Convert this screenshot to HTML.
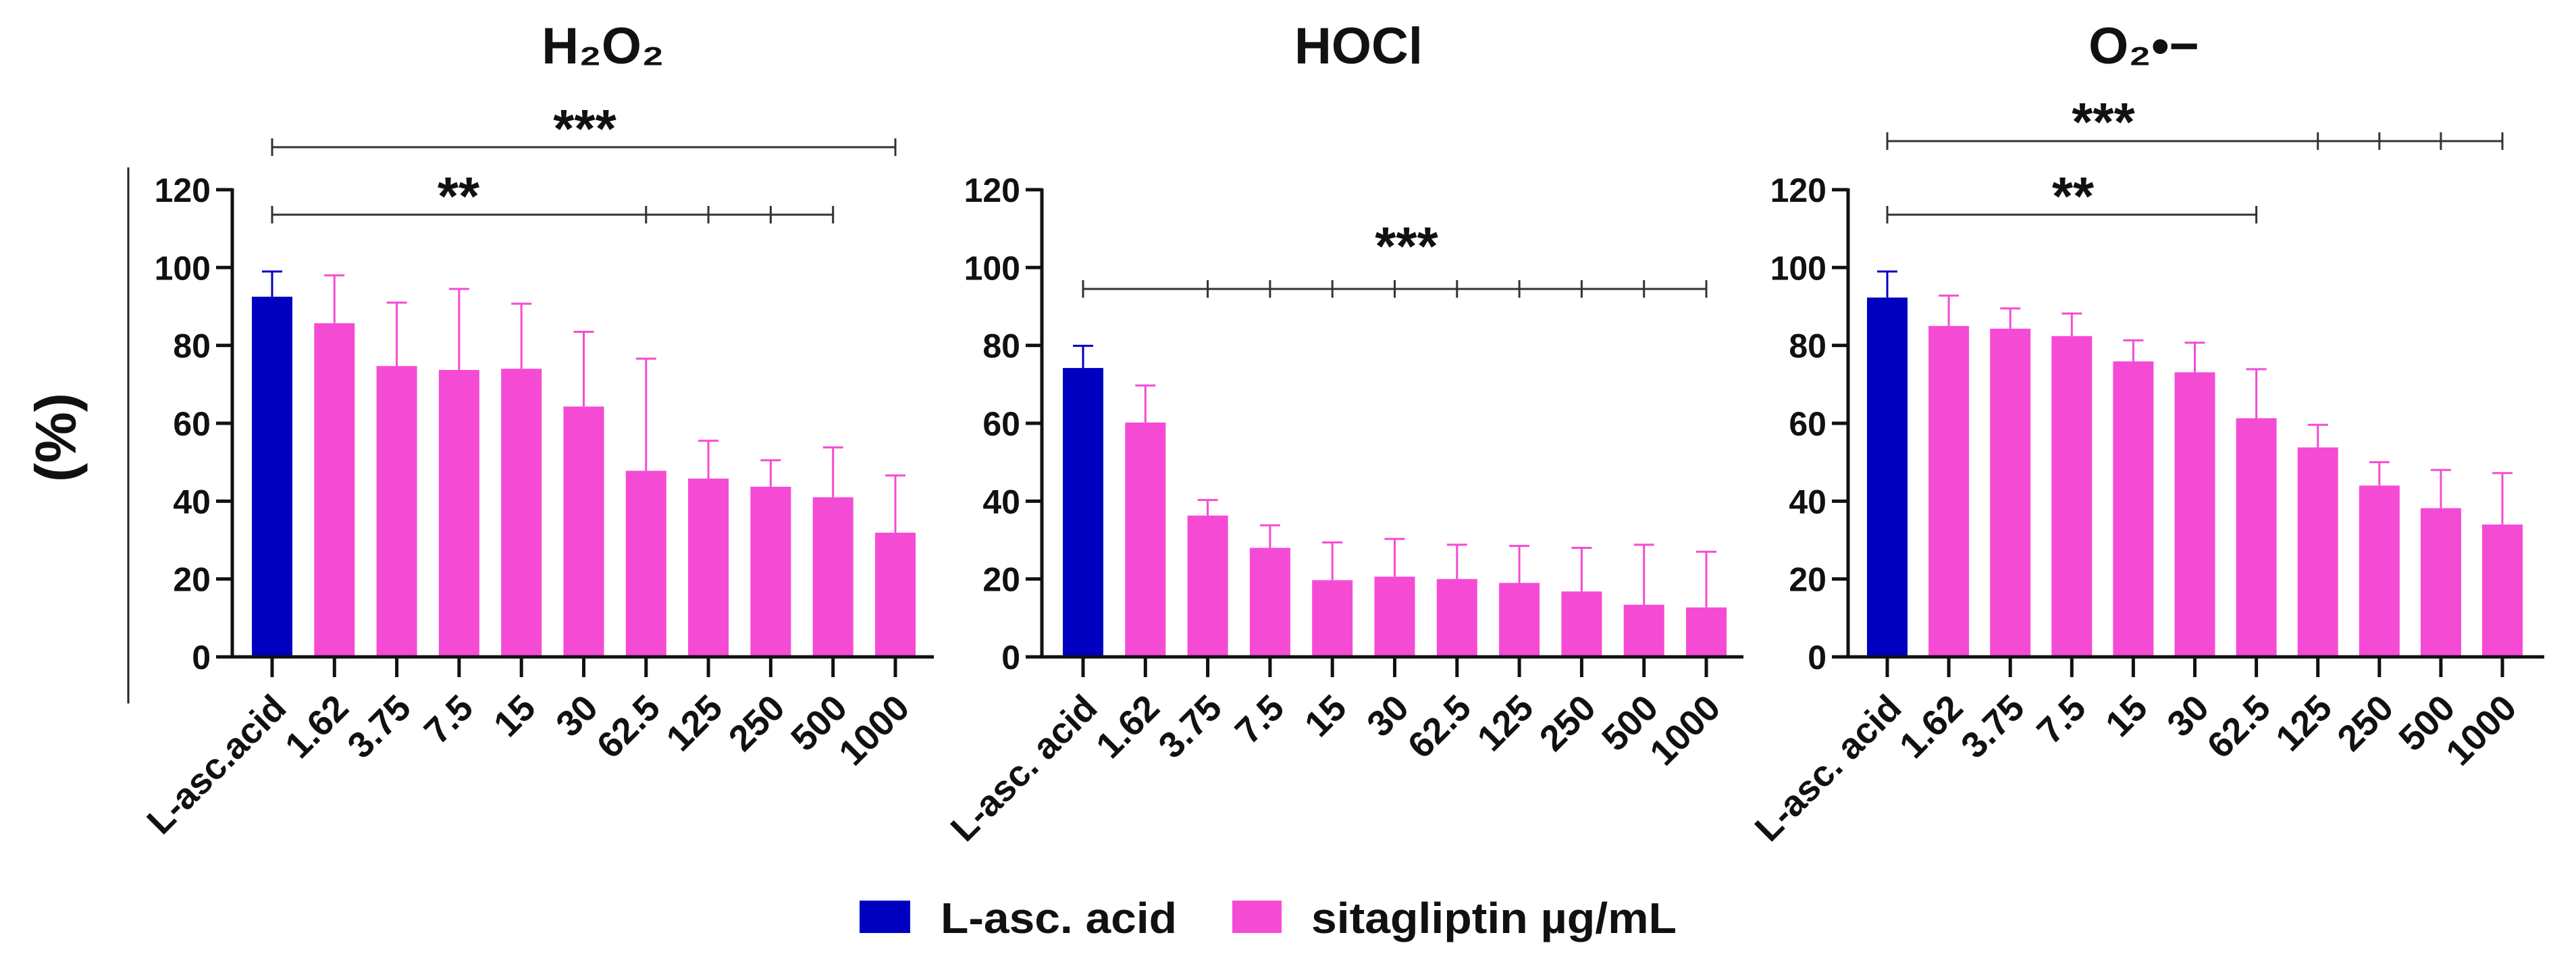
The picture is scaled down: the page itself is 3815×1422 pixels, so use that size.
<!DOCTYPE html>
<html><head><meta charset="utf-8"><style>
html,body{margin:0;padding:0;background:#fff;}
svg{display:block;font-family:"Liberation Sans","DejaVu Sans",sans-serif;font-weight:bold;}
</style></head><body>
<svg id="chart" width="3815" height="1422" viewBox="0 0 3815 1422" xmlns="http://www.w3.org/2000/svg">
<line x1="190" y1="248" x2="190" y2="1042" stroke="#222" stroke-width="3"/>
<text transform="translate(112,648) rotate(-90)" text-anchor="middle" font-size="85" fill="#111">(%)</text>
<g id="panels"></g>
<g>
<rect x="1273" y="1334" width="75" height="48" fill="#0000C0"/>
<text x="1393" y="1382" font-size="64" textLength="350" lengthAdjust="spacingAndGlyphs" fill="#111">L-asc. acid</text>
<rect x="1825" y="1334" width="73" height="48" fill="#F54BD4"/>
<text x="1942" y="1382" font-size="64" textLength="541" lengthAdjust="spacingAndGlyphs" fill="#111">sitagliptin µg/mL</text>
</g>
</svg>
<script>
const categories1 = ["L-asc.acid","1.62","3.75","7.5","15","30","62.5","125","250","500","1000"];
const categories2 = ["L-asc. acid","1.62","3.75","7.5","15","30","62.5","125","250","500","1000"];
const yTicks = [0,20,40,60,80,100,120];
const h2o2Values = [92.5,85.7,74.7,73.7,74,64.3,47.8,45.8,43.7,41,31.9];
const h2o2Errors = [99,98,91,94.5,90.7,83.5,76.6,55.5,50.5,53.8,46.6];
const hoclValues = [74.2,60.2,36.3,28,19.7,20.6,20,19,16.8,13.4,12.7];
const hoclErrors = [79.9,69.7,40.3,33.8,29.4,30.3,28.8,28.5,28,28.8,27];
const o2Values = [92.3,85,84.3,82.4,75.9,73.1,61.3,53.8,44,38.2,34];
const o2Errors = [99,92.8,89.5,88.2,81.3,80.7,73.9,59.6,50,48,47.2];

const NS = "http://www.w3.org/2000/svg";
const root = document.getElementById('panels');
function mk(tag, attrs, parent){
  const e = document.createElementNS(NS, tag);
  for (const k in attrs) e.setAttribute(k, attrs[k]);
  (parent||root).appendChild(e); return e;
}
const Y0 = 973, PXU = 5.767;
function yScale(v){ return Y0 - v*PXU; }

function drawPanel(p){
  const g = mk('g', {});
  
  
  const xs = i => p.x0 + i*p.step;
  const t = mk('text', {x:p.titleX, y:94, 'text-anchor':'middle', 'font-size':76, fill:'#111'}, g);
  
  
  t.textContent = p.title;
  p.values.forEach((v,i)=>{
    const cx = xs(i), col = i===0 ? '#0000C0' : '#F54BD4';
    const top = yScale(p.errors[i]);
    const el = mk('line', {x1:cx, x2:cx, y1:yScale(v), y2:top, stroke:col, 'stroke-width':3}, g);
    
    
    const cap = mk('line', {x1:cx-15, x2:cx+15, y1:top, y2:top, stroke:col, 'stroke-width':3}, g);
    
    
    const r = mk('rect', {x:cx-30, y:yScale(v), width:60, height:Y0-yScale(v), fill:col}, g);
    
    
  });
  mk('line', {x1:p.axisX, x2:p.axisX, y1:yScale(120)-2, y2:Y0+2, stroke:'#111', 'stroke-width':5}, g);
  const xa = mk('line', {x1:p.axisX-2, x2:p.axisEnd, y1:Y0, y2:Y0, stroke:'#111', 'stroke-width':5}, g);
  
  
  yTicks.forEach(v=>{
    mk('line', {x1:p.axisX-24, x2:p.axisX, y1:yScale(v), y2:yScale(v), stroke:'#111', 'stroke-width':5}, g);
    const tl = mk('text', {x:p.axisX-32, y:yScale(v)+18, 'text-anchor':'end', 'font-size':50, fill:'#111'}, g);
    
    
    tl.textContent = v;
  });
  p.cats.forEach((c,i)=>{
    const cx = xs(i);
    mk('line', {x1:cx, x2:cx, y1:Y0, y2:Y0+30, stroke:'#111', 'stroke-width':5}, g);
    const tl = mk('text', {transform:`translate(${cx+24},${1052}) rotate(-45)`, 'text-anchor':'end', 'font-size':54, fill:'#111'}, g);
    
    
    tl.textContent = c;
  });
  p.brackets.forEach(b=>{
    const x1 = xs(0), x2 = xs(b.end);
    const bl = mk('line', {x1:x1, x2:x2, y1:b.y, y2:b.y, stroke:'#333', 'stroke-width':3}, g);
    
    
    [0].concat(b.ticks, [b.end]).forEach(k=>{
      mk('line', {x1:xs(k), x2:xs(k), y1:b.y-13, y2:b.y+13, stroke:'#333', 'stroke-width':3}, g);
    });
    const st = mk('text', {x:b.sx, y:b.sy, 'text-anchor':'middle', 'font-size':80, fill:'#111'}, g);
    
    
    st.textContent = b.stars;
  });
}

drawPanel({name:'h2o2', title:'H₂O₂', titleX:893, x0:403, step:92.3, axisX:344, axisEnd:1383,
  cats:categories1, values:h2o2Values, errors:h2o2Errors,
  brackets:[{y:218,end:10,ticks:[],stars:'***',sx:866,sy:218},
            {y:318,end:9,ticks:[6,7,8],stars:'**',sx:679,sy:318}]});
drawPanel({name:'hocl', title:'HOCl', titleX:2012, x0:1604, step:92.3, axisX:1543, axisEnd:2582,
  cats:categories2, values:hoclValues, errors:hoclErrors,
  brackets:[{y:428,end:10,ticks:[2,3,4,5,6,7,8,9],stars:'***',sx:2083,sy:392}]});
drawPanel({name:'superoxide', title:'O₂•−', titleX:3175, x0:2795, step:91.1, axisX:2737, axisEnd:3768,
  cats:categories2, values:o2Values, errors:o2Errors,
  brackets:[{y:209,end:10,ticks:[7,8,9],stars:'***',sx:3115,sy:208},
            {y:318,end:6,ticks:[],stars:'**',sx:3070,sy:318}]});
</script>
</body></html>
